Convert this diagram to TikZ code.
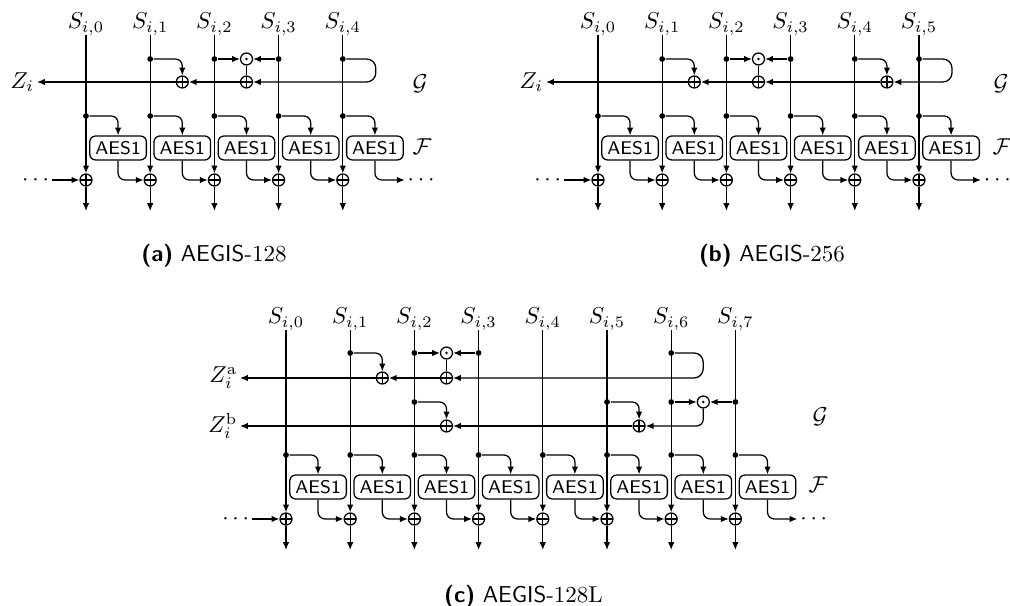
\documentclass[tikz,border=0pt]{standalone}
\usetikzlibrary{arrows.meta,positioning}
\tikzset{>={Latex[length=3.4pt,width=2.8pt]},
  every path/.style={line width=0.55pt},
  junc/.style={circle,fill,inner sep=0pt,minimum size=2.5pt},
  xor/.style={circle,draw,inner sep=0pt,minimum size=5.2pt,
    path picture={\draw (path picture bounding box.north) -- (path picture bounding box.south)
      (path picture bounding box.west) -- (path picture bounding box.east);}},
  odot/.style={circle,draw,inner sep=0pt,minimum size=5.2pt,
    path picture={\fill (path picture bounding box.center) circle (0.6pt);}},
  aes/.style={draw,rounded corners=2.5pt,inner sep=0pt,minimum width=24.6pt,
    minimum height=10.4pt,font=\sffamily\footnotesize},
  lbl/.style={anchor=base,inner sep=0pt},
  side/.style={anchor=west,inner sep=0pt},
  zout/.style={anchor=east,inner sep=1pt}}

% state words: #1 prefix, #2 x of column 0, #3 last column, #4 top of the lines
\newcommand{\Swords}[4]{%
  \foreach \k in {0,...,#3} {
    \node[lbl] (#1-S\k) at ({#2+64.2*\k},#4-6) {$S_{i,\k}$};
    \coordinate (#1-s\k) at ({#2+64.2*\k},#4);
  }}

% the AES1 layer: #1 prefix, #2 x of column 0, #3 last column, #4 y of the branch points
\newcommand{\Flayer}[4]{%
  \foreach \k in {0,...,#3} {
    \node[junc] (#1-f\k) at ({#2+64.2*\k},#4) {};
    \node[aes] (#1-a\k) at ({#2+64.2*\k+32.1},#4+32) {AES1};
    \node[xor] (#1-p\k) at ({#2+64.2*\k},#4+64) {};
    \coordinate (#1-e\k) at ({#2+64.2*\k},#4+95);
    \draw[->] (#1-s\k) -- (#1-p\k);
    \draw[->] (#1-p\k) -- (#1-e\k);
    \draw[->,rounded corners=3pt] (#1-f\k) -| (#1-a\k);
  }
  \foreach \k [count=\j from 0] in {1,...,#3}
    \draw[->,rounded corners=3pt] (#1-a\j) |- (#1-p\k);
  \node[zout] (#1-in) at ({#2-34},#4+64) {$\cdots$};
  \node[anchor=west,inner sep=1pt] (#1-out) at ({#2+64.2*#3+62},#4+64) {$\cdots$};
  \draw[->] (#1-in) -- (#1-p0);
  \draw[->,rounded corners=3pt] (#1-a#3) |- (#1-out);
}

\begin{document}
\begin{tikzpicture}[x=0.435pt,y=-0.435pt]
  \useasboundingbox (0,0) rectangle (1010,606);

  % (a) AEGIS-128
  \Swords{a}{86}{4}{35}
  \foreach \k in {1,...,4} \node[junc] (a-t\k) at ({86+64.2*\k},59) {};
  \node[xor] (a-g1) at (182.3,82) {};
  \node[odot] (a-o) at (246.5,59) {};
  \node[xor] (a-g2) at (246.5,82) {};
  \node[zout] (a-Z) at (37,82) {$Z_i$};
  \draw[->,rounded corners=3pt] (a-t1) -| (a-g1);
  \draw[->] (a-t2) -- (a-o);
  \draw[->] (a-t3) -- (a-o);
  \draw (a-o) -- (a-g2);
  \draw[->,rounded corners=4pt] (a-t4) -- ++(33,0) |- (a-g2);
  \draw[->] (a-g2) -- (a-g1);
  \draw[->] (a-g1) -- (a-Z);
  \node[side] (a-G) at (412,84) {$\mathcal{G}$};
  \Flayer{a}{86}{4}{116}
  \node[side] (a-F) at (412,147) {$\mathcal{F}$};
  \node[lbl] (a-cap) at (214,262) {\textsf{\textbf{(a)}} \textsf{AEGIS}-128};

  % (b) AEGIS-256
  \Swords{b}{598}{5}{35}
  \foreach \k in {1,...,5} \node[junc] (b-t\k) at ({598+64.2*\k},59) {};
  \node[xor] (b-g1) at (694.3,82) {};
  \node[odot] (b-o) at (758.5,59) {};
  \node[xor] (b-g2) at (758.5,82) {};
  \node[xor] (b-g3) at (886.9,82) {};
  \node[zout] (b-Z) at (546,82) {$Z_i$};
  \draw[->,rounded corners=3pt] (b-t1) -| (b-g1);
  \draw[->] (b-t2) -- (b-o);
  \draw[->] (b-t3) -- (b-o);
  \draw (b-o) -- (b-g2);
  \draw[->,rounded corners=3pt] (b-t4) -| (b-g3);
  \draw[->,rounded corners=4pt] (b-t5) -- ++(33,0) |- (b-g3);
  \draw[->] (b-g3) -- (b-g2);
  \draw[->] (b-g2) -- (b-g1);
  \draw[->] (b-g1) -- (b-Z);
  \node[side] (b-G) at (993,84) {$\mathcal{G}$};
  \Flayer{b}{598}{5}{116}
  \node[side] (b-F) at (992,147) {$\mathcal{F}$};
  \node[lbl] (b-cap) at (772,262) {\textsf{\textbf{(b)}} \textsf{AEGIS}-256};

  % (c) AEGIS-128L
  \Swords{c}{286}{7}{330}
  \foreach \k in {1,2,3,6} \node[junc] (c-t\k) at ({286+64.2*\k},353) {};
  \foreach \k in {2,5,6,7} \node[junc] (c-u\k) at ({286+64.2*\k},402) {};
  \node[xor] (c-g1) at (382.3,378) {};
  \node[odot] (c-o1) at (446.5,353) {};
  \node[xor] (c-g2) at (446.5,378) {};
  \node[xor] (c-g3) at (446.5,426) {};
  \node[xor] (c-g4) at (639.1,426) {};
  \node[odot] (c-o2) at (703.3,402) {};
  \node[zout] (c-Za) at (240,378) {$Z_i^{\mathrm{a}}$};
  \node[zout] (c-Zb) at (240,426) {$Z_i^{\mathrm{b}}$};
  \draw[->,rounded corners=3pt] (c-t1) -| (c-g1);
  \draw[->] (c-t2) -- (c-o1);
  \draw[->] (c-t3) -- (c-o1);
  \draw (c-o1) -- (c-g2);
  \draw[->,rounded corners=4pt] (c-t6) -- ++(32,0) |- (c-g2);
  \draw[->] (c-g2) -- (c-g1);
  \draw[->] (c-g1) -- (c-Za);
  \draw[->,rounded corners=3pt] (c-u2) -| (c-g3);
  \draw[->,rounded corners=3pt] (c-u5) -| (c-g4);
  \draw[->] (c-u6) -- (c-o2);
  \draw[->] (c-u7) -- (c-o2);
  \draw[->,rounded corners=3pt] (c-o2) |- (c-g4);
  \draw[->] (c-g4) -- (c-g3);
  \draw[->] (c-g3) -- (c-Zb);
  \node[side] (c-G) at (812,417) {$\mathcal{G}$};
  \Flayer{c}{286}{7}{455}
  \node[side] (c-F) at (808,485) {$\mathcal{F}$};
  \node[lbl] (c-cap) at (523.5,603) {\textsf{\textbf{(c)}} \textsf{AEGIS}-128L};
\end{tikzpicture}
\end{document}
